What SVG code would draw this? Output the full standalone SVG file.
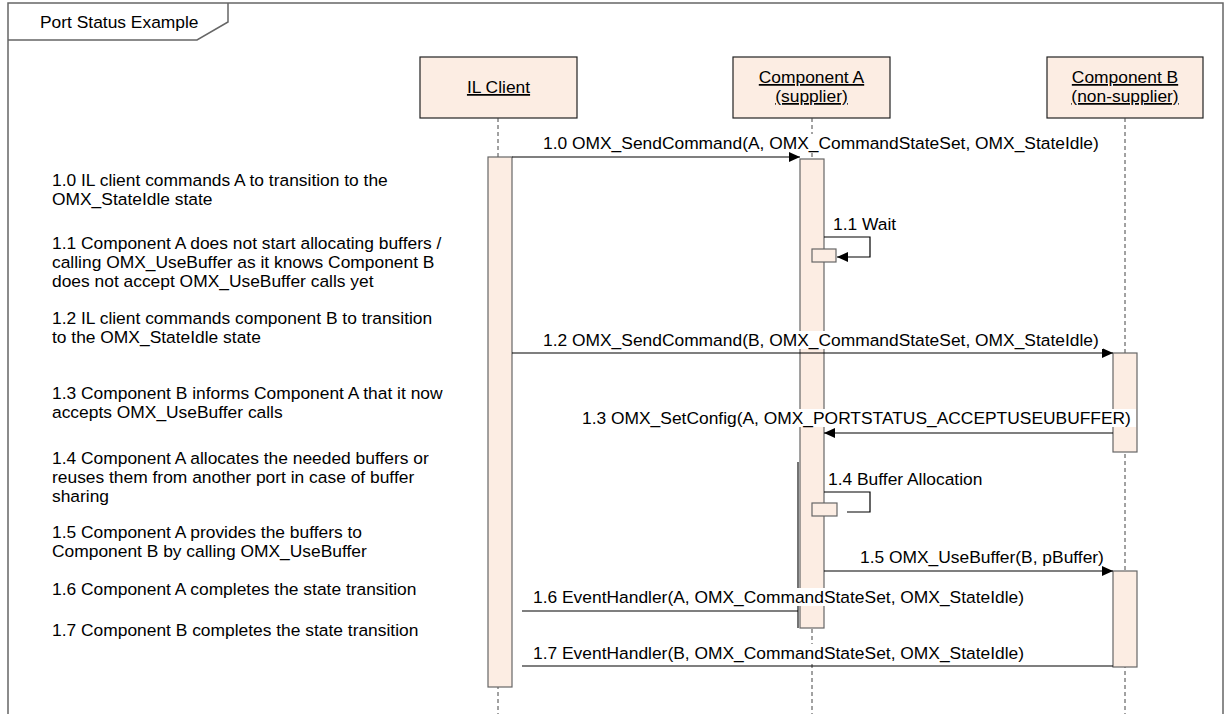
<svg xmlns="http://www.w3.org/2000/svg" width="1227" height="714" viewBox="0 0 1227 714">
<style>
text{font-family:"Liberation Sans",Arial,sans-serif;font-size:17.4px;fill:#000}
.head{fill:#FCEDE3;stroke:#222;stroke-width:1.2}
.act{fill:#FCEDE3;stroke:#666;stroke-width:1.2}
.edge{stroke:#444;stroke-width:1.5;fill:none}
.life{stroke:#444;stroke-width:1;stroke-dasharray:4 3;fill:none}
.msg{stroke:#000;stroke-width:1.2;fill:none}
.bg{fill:#fff}
.frame{fill:none;stroke:#666;stroke-width:1.5}
.u{text-decoration:underline}
</style>
<defs>
<marker id="arr" markerWidth="12" markerHeight="10" refX="11" refY="5" orient="auto" markerUnits="userSpaceOnUse">
<path d="M0,0 L11,5 L0,10 Z" fill="#000"/>
</marker>
</defs>
<rect width="1227" height="714" fill="#fff"/>
<g id="frame">
<path class="frame" d="M8,720 V3 H1223 V720"/>
<path class="frame" d="M8,40 H197 L228,22 V3"/>
<text x="40" y="28">Port Status Example</text>
</g>
<g id="il-client">
<rect class="head" x="420" y="57" width="157" height="61"/>
<text class="u" x="498.5" y="93" text-anchor="middle">IL Client</text>
<line class="life" x1="498" y1="118" x2="498" y2="714"/>
<rect class="act" x="488" y="157" width="24" height="530"/>
</g>
<g id="component-a">
<rect class="head" x="733" y="57" width="157" height="61"/>
<text class="u" x="811.5" y="83" text-anchor="middle">Component A</text>
<text class="u" x="811.5" y="102" text-anchor="middle">(supplier)</text>
<line class="life" x1="812" y1="118" x2="812" y2="714"/>
<rect class="act" x="800" y="159" width="24" height="469"/>
<line class="edge" x1="798" y1="462" x2="798" y2="628"/>
<rect class="act" x="812" y="249" width="24" height="13"/>
<rect class="act" x="812" y="503" width="25" height="13"/>
</g>
<g id="component-b">
<rect class="head" x="1047" y="57" width="156" height="61"/>
<text class="u" x="1125" y="83" text-anchor="middle">Component B</text>
<text class="u" x="1125" y="102" text-anchor="middle">(non-supplier)</text>
<line class="life" x1="1125" y1="118" x2="1125" y2="714"/>
<rect class="act" x="1113" y="353" width="24" height="99"/>
<rect class="act" x="1113" y="571" width="24" height="96"/>
</g>
<g id="connectors">
<line class="msg" x1="512" y1="157" x2="800" y2="157" marker-end="url(#arr)"/>
<path class="msg" d="M824,237 H870 V257 H837" marker-end="url(#arr)"/>
<line class="msg" x1="512" y1="353" x2="1113" y2="353" marker-end="url(#arr)"/>
<line class="msg" x1="1113" y1="433" x2="824" y2="433" marker-end="url(#arr)"/>
<path class="msg" d="M824,492 H870 V512 H847"/>
<line class="msg" x1="824" y1="571" x2="1113" y2="571" marker-end="url(#arr)"/>
<line class="msg" x1="798" y1="611" x2="522" y2="611"/>
<line class="msg" x1="1113" y1="666" x2="522" y2="666"/>
</g>
<g id="message-labels">
<rect class="bg" x="541" y="134" width="562" height="18"/>
<text x="543" y="149">1.0 OMX_SendCommand(A, OMX_CommandStateSet, OMX_StateIdle)</text>
<text x="833" y="230">1.1 Wait</text>
<rect class="bg" x="541" y="331" width="562" height="18"/>
<text x="543" y="346">1.2 OMX_SendCommand(B, OMX_CommandStateSet, OMX_StateIdle)</text>
<rect class="bg" x="580" y="409" width="556" height="18"/>
<text x="582" y="424">1.3 OMX_SetConfig(A, OMX_PORTSTATUS_ACCEPTUSEUBUFFER)</text>
<text x="828" y="485">1.4 Buffer Allocation</text>
<text x="860" y="563">1.5 OMX_UseBuffer(B, pBuffer)</text>
<rect class="bg" x="531" y="588" width="497" height="18"/>
<text x="533" y="603">1.6 EventHandler(A, OMX_CommandStateSet, OMX_StateIdle)</text>
<rect class="bg" x="531" y="644" width="497" height="18"/>
<text x="533" y="659">1.7 EventHandler(B, OMX_CommandStateSet, OMX_StateIdle)</text>
</g>
<g id="notes">
<text x="52" y="186">1.0 IL client commands A to transition to the</text>
<text x="52" y="205">OMX_StateIdle state</text>
<text x="52" y="249">1.1 Component A does not start allocating buffers /</text>
<text x="52" y="268">calling OMX_UseBuffer as it knows Component B</text>
<text x="52" y="287">does not accept OMX_UseBuffer calls yet</text>
<text x="52" y="324">1.2 IL client commands component B to transition</text>
<text x="52" y="343">to the OMX_StateIdle state</text>
<text x="52" y="399">1.3 Component B informs Component A that it now</text>
<text x="52" y="418">accepts OMX_UseBuffer calls</text>
<text x="52" y="464">1.4 Component A allocates the needed buffers or</text>
<text x="52" y="483">reuses them from another port in case of buffer</text>
<text x="52" y="502">sharing</text>
<text x="52" y="538">1.5 Component A provides the buffers to</text>
<text x="52" y="557">Component B by calling OMX_UseBuffer</text>
<text x="52" y="595">1.6 Component A completes the state transition</text>
<text x="52" y="636">1.7 Component B completes the state transition</text>
</g>
</svg>
